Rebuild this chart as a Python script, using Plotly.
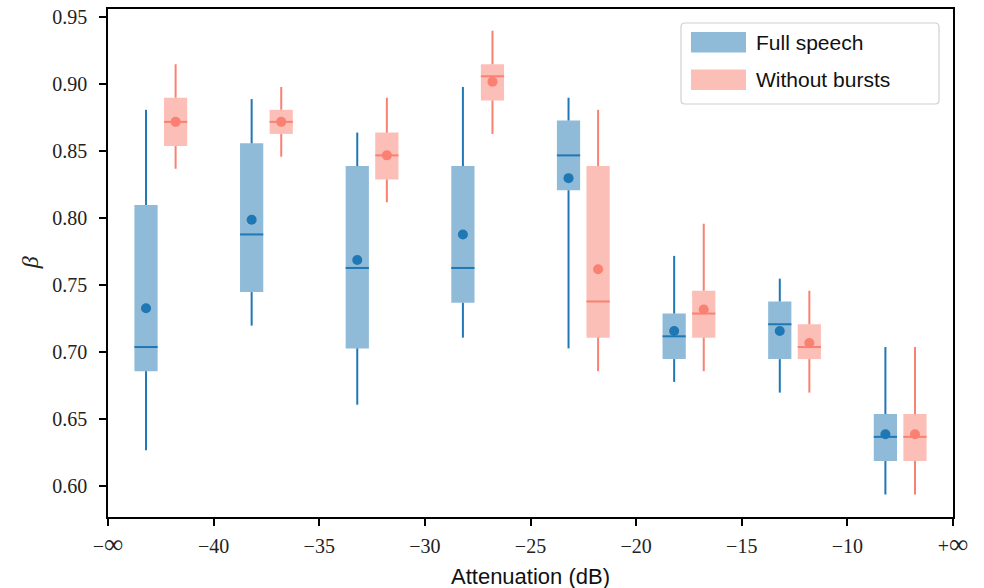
import plotly.graph_objects as go

# ---- data ----
tick_labels = ["−∞", "−40", "−35", "−30", "−25", "−20", "−15", "−10", "+∞"]
groups = [0, 1, 2, 3, 4, 5, 6, 7]

full_whishi = [0.881, 0.889, 0.864, 0.898, 0.890, 0.772, 0.755, 0.704]
full_q3     = [0.810, 0.856, 0.839, 0.839, 0.873, 0.729, 0.738, 0.654]
full_mean   = [0.733, 0.799, 0.769, 0.788, 0.830, 0.716, 0.716, 0.639]
full_med    = [0.704, 0.788, 0.763, 0.763, 0.847, 0.712, 0.721, 0.637]
full_q1     = [0.686, 0.745, 0.703, 0.737, 0.821, 0.695, 0.695, 0.619]
full_whislo = [0.627, 0.720, 0.661, 0.711, 0.703, 0.678, 0.670, 0.594]

nob_whishi = [0.915, 0.898, 0.890, 0.940, 0.881, 0.796, 0.746, 0.704]
nob_q3     = [0.890, 0.881, 0.864, 0.915, 0.839, 0.746, 0.721, 0.654]
nob_mean   = [0.872, 0.872, 0.847, 0.902, 0.762, 0.732, 0.707, 0.639]
nob_med    = [0.872, 0.872, 0.847, 0.906, 0.738, 0.729, 0.704, 0.637]
nob_q1     = [0.854, 0.863, 0.829, 0.888, 0.711, 0.711, 0.695, 0.619]
nob_whislo = [0.837, 0.846, 0.812, 0.863, 0.686, 0.686, 0.670, 0.594]

# ---- style ----
BOX_W = 0.22
OFFSET = 0.14
series = [
    dict(name="Full speech", off=-OFFSET, fill="#8fbbd9", line="#1f77b4",
         whishi=full_whishi, q3=full_q3, mean=full_mean, med=full_med,
         q1=full_q1, whislo=full_whislo),
    dict(name="Without bursts", off=OFFSET, fill="#fcbfb8", line="#fa8072",
         whishi=nob_whishi, q3=nob_q3, mean=nob_mean, med=nob_med,
         q1=nob_q1, whislo=nob_whislo),
]

fig = go.Figure()
for s in series:
    xs = [g + 0.5 + s["off"] for g in groups]
    # boxes
    fig.add_trace(go.Bar(
        x=xs, y=[h - l for h, l in zip(s["q3"], s["q1"])], base=s["q1"],
        width=BOX_W, marker=dict(color=s["fill"], line=dict(width=0)),
        name=s["name"], showlegend=False, hoverinfo="skip"))
    # whiskers
    wx, wy = [], []
    for x, lo, q1, q3, hi in zip(xs, s["whislo"], s["q1"], s["q3"], s["whishi"]):
        wx += [x, x, None, x, x, None]
        wy += [lo, q1, None, q3, hi, None]
    fig.add_trace(go.Scatter(x=wx, y=wy, mode="lines",
                             line=dict(color=s["line"], width=2),
                             showlegend=False, hoverinfo="skip"))
    # medians
    mx, my = [], []
    for x, m in zip(xs, s["med"]):
        mx += [x - BOX_W / 2, x + BOX_W / 2, None]
        my += [m, m, None]
    fig.add_trace(go.Scatter(x=mx, y=my, mode="lines",
                             line=dict(color=s["line"], width=2),
                             showlegend=False, hoverinfo="skip"))
    # means
    fig.add_trace(go.Scatter(x=xs, y=s["mean"], mode="markers",
                             marker=dict(color=s["line"], size=10),
                             showlegend=False))

serif = "Liberation Serif, DejaVu Serif, serif"
sans = "Liberation Sans, Arial, sans-serif"

def fmt_tick(t):
    # enlarge the infinity glyph to resemble the LaTeX rendering
    return t.replace("∞", '<span style="font-size:27px">∞</span>')

fig.update_layout(
    width=984, height=588,
    margin=dict(l=108, r=31, t=9, b=71),
    plot_bgcolor="white", paper_bgcolor="white",
    barmode="overlay",
    showlegend=False,
    xaxis=dict(range=[0, 8], tickmode="array", automargin=False,
               tickvals=list(range(len(tick_labels))),
               ticktext=[fmt_tick(t) for t in tick_labels],
               showgrid=False, zeroline=False, showline=True, mirror=True,
               linecolor="black", linewidth=1.6, ticks="outside", ticklen=7,
               tickwidth=1.5, tickcolor="black",
               tickfont=dict(family=serif, size=20, color="#222"),
               ticklabelstandoff=3),
    yaxis=dict(range=[0.5772, 0.9562], tickmode="array", automargin=False,
               tickvals=[0.60, 0.65, 0.70, 0.75, 0.80, 0.85, 0.90, 0.95],
               ticktext=["0.60", "0.65", "0.70", "0.75", "0.80", "0.85", "0.90", "0.95"],
               showgrid=False, zeroline=False, showline=True, mirror=True,
               linecolor="black", linewidth=1.6, ticks="outside", ticklen=7,
               tickwidth=1.5, tickcolor="black",
               tickfont=dict(family=serif, size=20, color="#222"),
               ticklabelstandoff=8),
)

# axis titles
fig.add_annotation(text="Attenuation (dB)", xref="paper", yref="paper",
                   x=0.5, y=-0.118, xanchor="center", yanchor="middle",
                   showarrow=False, font=dict(family=sans, size=22, color="#111"))
fig.add_annotation(text="<i>β</i>", xref="paper", yref="paper",
                   x=-0.092, y=0.5, xanchor="center", yanchor="middle",
                   textangle=-90, showarrow=False,
                   font=dict(family=serif, size=24, color="#222"))

# custom legend (matplotlib-style, rounded frame)
W = 984 - 108 - 31
H = 588 - 9 - 71
def px(x):
    return (x - 108) / W
def py(y):
    return (517 - y) / H

L, R, T, B, rad = 681, 939, 23, 104, 4
path = (f"M {px(L + rad)} {py(T)} L {px(R - rad)} {py(T)} "
        f"Q {px(R)} {py(T)} {px(R)} {py(T + rad)} "
        f"L {px(R)} {py(B - rad)} Q {px(R)} {py(B)} {px(R - rad)} {py(B)} "
        f"L {px(L + rad)} {py(B)} Q {px(L)} {py(B)} {px(L)} {py(B - rad)} "
        f"L {px(L)} {py(T + rad)} Q {px(L)} {py(T)} {px(L + rad)} {py(T)} Z")
fig.add_shape(type="path", xref="paper", yref="paper", path=path,
              line=dict(color="#d0d0d0", width=1.2),
              fillcolor="rgba(255,255,255,0.8)", layer="above")
for i, s in enumerate(series):
    top = 32 + i * 37.5
    fig.add_shape(type="rect", xref="paper", yref="paper",
                  x0=px(691), x1=px(746), y0=py(top + 20.5), y1=py(top),
                  line=dict(width=0), fillcolor=s["fill"], layer="above")
    fig.add_annotation(text=s["name"], xref="paper", yref="paper",
                       x=px(754), y=py(top + 10.5), xanchor="left", yanchor="middle",
                       showarrow=False, font=dict(family=sans, size=21, color="#111"))

fig.write_html("out.html", config={"displayModeBar": False},
               post_script="document.body.style.margin='0';document.body.style.overflow='hidden';")
